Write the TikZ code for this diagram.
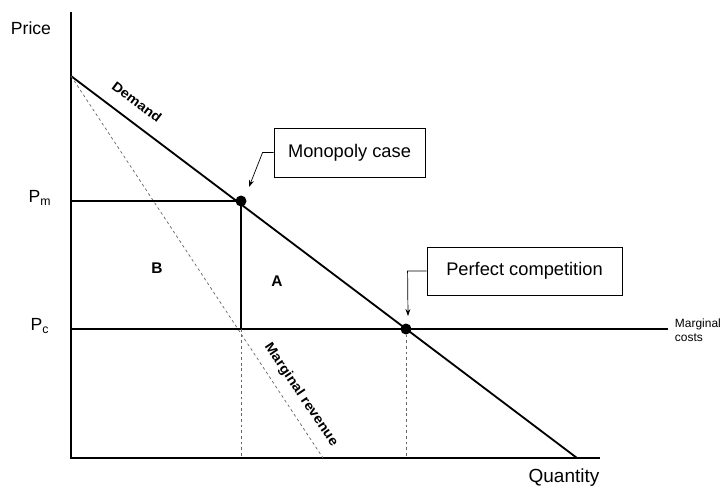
\documentclass[tikz,border=0pt]{standalone}
\usepackage{fontspec}
\setmainfont{Liberation Sans}
\usetikzlibrary{arrows.meta}

\begin{document}
\begin{tikzpicture}[x=0.025cm,y=-0.025cm,
  axis/.style={line width=1.1pt},
  curve/.style={line width=1.3pt},
  guide/.style={line width=0.8pt},
  dots/.style={dash pattern=on 2pt off 2pt,line width=0.5pt,black!60},
  callout/.style={draw,line width=0.6pt,inner sep=2pt,font=\fontsize{13}{15}\selectfont},
  pointer/.style={line width=0.5pt,-{Stealth[length=5pt,width=3.5pt]}},
  lbl/.style={font=\fontsize{12.5}{14}\selectfont}]
\useasboundingbox (0,0) rectangle (725,489);
% axes
\coordinate (O) at (71,458);
\coordinate (ytop) at (71,12);
\coordinate (xend) at (600,458);
\draw[axis] (ytop) -- (O) -- (xend);
\node[lbl] (price) at (31,28) {Price};
\node[font=\fontsize{13.5}{15}\selectfont] (quantity) at (564,478) {Quantity};
% demand and marginal revenue
\coordinate (D0) at (71,76);
\coordinate (D1) at (577,458);
\coordinate (MR1) at (323,458);
\draw[curve] (D0) -- (D1);
\draw[dots] (D0) -- (MR1);
\node[font=\fontsize{9.5}{10}\bfseries\selectfont,rotate=-37,xscale=1.1] (demand) at (137,102) {Demand};
\node[font=\fontsize{9.5}{10}\bfseries\selectfont,rotate=-56,xscale=1.1] (mrlabel) at (301,395) {Marginal revenue};
% price levels
\coordinate (Pm) at (71,201);
\coordinate (Pc) at (71,329);
\coordinate (Qm) at (241,201);
\coordinate (Qmc) at (241,329);
\coordinate (Qc) at (406,329);
\coordinate (mcend) at (668,329);
\draw[guide] (Pm) -- (Qm) -- (Qmc);
\draw[guide] (Pc) -- (mcend);
\draw[dots] (Qmc) -- (241,458);
\draw[dots] (Qc) -- (406,458);
\fill (Qm) circle (5.5);
\fill (Qc) circle (5.5);
\node[lbl] (pmlabel) at (40,198) {P\textsubscript{m}};
\node[lbl] (pclabel) at (40,326) {P\textsubscript{c}};
\node[font=\fontsize{8.5}{10}\selectfont,align=left,anchor=west] (mc) at (670,330) {Marginal\\costs};
% areas
\node[font=\fontsize{11}{13}\bfseries\selectfont] (areaB) at (157,268) {B};
\node[font=\fontsize{11}{13}\bfseries\selectfont] (areaA) at (277,281) {A};
% callouts
\node[callout,minimum width=151*0.025cm,minimum height=49*0.025cm] (mono) at (349.5,152.5) {Monopoly case};
\node[callout,minimum width=195*0.025cm,minimum height=48*0.025cm] (perfect) at (524.5,271) {Perfect competition};
\draw[pointer] (mono.west) -- ++(-11,0) -- (249,187);
\draw[pointer] (perfect.west) -- ++(-19,0) -- (408,316);
\end{tikzpicture}
\end{document}
